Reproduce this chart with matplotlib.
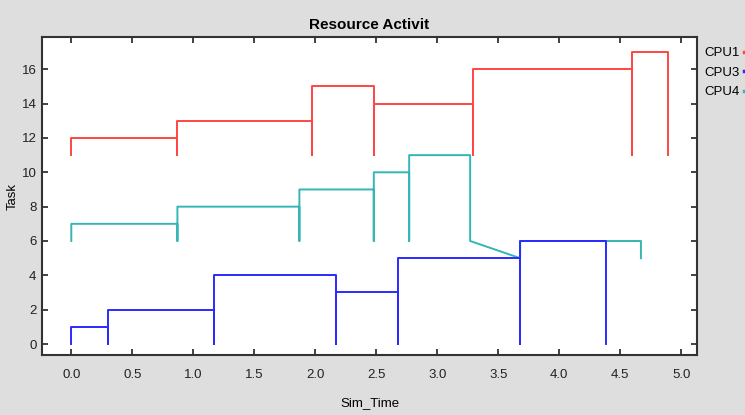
import matplotlib
matplotlib.use('Agg')
import matplotlib.pyplot as plt

# polyline points (time, task)
cpu1_t = [0.0, 0.0, 0.87, 0.87, 0.87, 1.97, 1.97, 1.97, 2.48, 2.48, 2.48, 3.29, 3.29, 3.29, 4.6, 4.6, 4.6, 4.89, 4.89]
cpu1_y = [11, 12, 12, 11, 13, 13, 11, 15, 15, 11, 14, 14, 11, 16, 16, 11, 17, 17, 11]

cpu3_t = [0.0, 0.0, 0.3, 0.3, 0.3, 1.17, 1.17, 1.17, 2.17, 2.17, 2.17, 2.68, 2.68, 2.68, 3.68, 3.68, 3.68, 4.38, 4.38]
cpu3_y = [0, 1, 1, 0, 2, 2, 0, 4, 4, 0, 3, 3, 0, 5, 5, 0, 6, 6, 0]

cpu4_t = [0.0, 0.0, 0.87, 0.87, 0.87, 1.87, 1.87, 1.87, 2.48, 2.48, 2.48, 2.77, 2.77, 2.77, 3.27, 3.27, 3.68, 3.68, 4.67, 4.67]
cpu4_y = [6, 7, 7, 6, 8, 8, 6, 9, 9, 6, 10, 10, 6, 11, 11, 6, 5, 6, 6, 5]

xticks = [0.0, 0.5, 1.0, 1.5, 2.0, 2.5, 3.0, 3.5, 4.0, 4.5, 5.0]
yticks = [0, 2, 4, 6, 8, 10, 12, 14, 16]

plt.rcParams['font.family'] = ['Liberation Sans Narrow', 'Liberation Sans', 'DejaVu Sans']

fig = plt.figure(figsize=(7.45, 4.15), dpi=100, facecolor='#dedede')
ax = fig.add_axes([0.0564, 0.1446, 0.8792, 0.7662])
ax.set_facecolor('white')

l1, = ax.plot(cpu1_t, cpu1_y, color='#ff4545', lw=1.4, label='CPU1', zorder=3)
l4, = ax.plot(cpu4_t, cpu4_y, color='#35b5b5', lw=1.4, label='CPU4', zorder=2)
l3, = ax.plot(cpu3_t, cpu3_y, color='#2a2aff', lw=1.4, label='CPU3', zorder=3)

ax.set_xlim(-0.24, 5.13)
ax.set_ylim(-0.64, 17.88)
ax.set_xticks(xticks)
ax.set_xticklabels(['%.1f' % v for v in xticks])
ax.set_yticks(yticks)
ax.tick_params(direction='in', top=True, right=True, labeltop=False, labelright=False,
               length=4, width=1.2, labelsize=9.5, pad=10, colors='#222222')
ax.tick_params(axis='y', pad=4)
for s in ax.spines.values():
    s.set_linewidth(1.5)
    s.set_color('#333333')

ax.set_title('Resource Activit', fontsize=11, fontweight='bold', pad=6, family='Liberation Sans')
ax.set_xlabel('Sim_Time', fontsize=9.5, labelpad=12)
ax.set_ylabel('Task', fontsize=9.5, labelpad=2, family='Liberation Sans')

leg = fig.legend([l1, l3, l4], ['CPU1', 'CPU3', 'CPU4'], loc='upper left',
                 bbox_to_anchor=(0.9297, 0.915), frameon=False, markerfirst=False,
                 handlelength=1.0, handletextpad=0.3, labelspacing=0.55, fontsize=9.5)
for h in leg.legend_handles:
    h.set_linewidth(2.5)

fig.savefig('out.png', dpi=100, facecolor=fig.get_facecolor())
